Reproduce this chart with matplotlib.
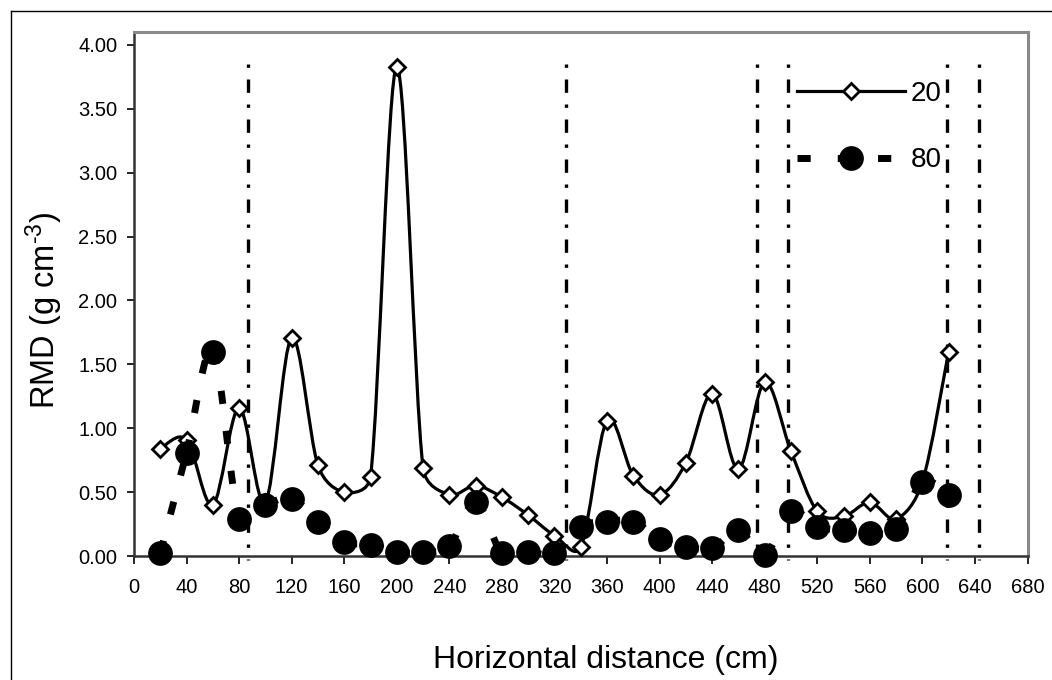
import matplotlib
matplotlib.use("Agg")
import matplotlib.pyplot as plt
from matplotlib.path import Path
from matplotlib.patches import PathPatch
from matplotlib.lines import Line2D
import numpy as np

plt.rcParams['font.family'] = ['Liberation Sans', 'DejaVu Sans']
plt.rcParams['mathtext.fontset'] = 'custom'
plt.rcParams['mathtext.rm'] = 'Liberation Sans'
plt.rcParams['mathtext.default'] = 'regular'

# ---- data ----
distance = [20, 40, 60, 80, 100, 120, 140, 160, 180, 200, 220, 240, 260, 280, 300, 320,
            340, 360, 380, 400, 420, 440, 460, 480, 500, 520, 540, 560, 580, 600, 620]
rmd_20 = [0.84, 0.91, 0.40, 1.16, 0.42, 1.71, 0.71, 0.50, 0.62, 3.83, 0.69, 0.48, 0.55, 0.46, 0.32, 0.16,
          0.07, 1.06, 0.63, 0.48, 0.73, 1.27, 0.68, 1.36, 0.82, 0.35, 0.31, 0.42, 0.29, 0.58, 1.60]
rmd_80 = [0.02, 0.81, 1.60, 0.29, 0.40, 0.45, 0.27, 0.11, 0.09, 0.03, 0.03, 0.08, 0.42, 0.02, 0.03, 0.02,
          0.23, 0.27, 0.27, 0.13, 0.07, 0.06, 0.20, 0.01, 0.35, 0.23, 0.20, 0.18, 0.21, 0.58, 0.48]
boundaries = [86.5, 328.7, 473.8, 497.6, 618.5, 643.0]
boundary_top = 3.85
series_labels = ['20', '80']
x_ticks = list(range(0, 681, 40))
y_ticks = [0.0, 0.5, 1.0, 1.5, 2.0, 2.5, 3.0, 3.5, 4.0]


def smooth_segments(ax, xs, ys):
    """Excel-style smoothed line: list of cubic Bezier segments (data coords),
    control points computed in screen space, limited to half the segment."""
    P = ax.transData.transform(np.column_stack([xs, ys]).astype(float))
    inv = ax.transData.inverted()
    n = len(P)
    segs = []
    for i in range(n - 1):
        p0 = P[i - 1] if i > 0 else P[i]
        p1 = P[i]
        p2 = P[i + 1]
        p3 = P[i + 2] if i + 2 < n else P[i + 1]
        d12 = np.hypot(*(p2 - p1))
        d02 = np.hypot(*(p2 - p0))
        d13 = np.hypot(*(p3 - p1))
        f1 = 1 / 6 if d02 / 6 < d12 / 2 else d12 / (2 * d02)
        f2 = 1 / 6 if d13 / 6 < d12 / 2 else d12 / (2 * d13)
        c1 = p1 + (p2 - p0) * f1
        c2 = p2 - (p3 - p1) * f2
        segs.append(inv.transform(np.array([p1, c1, c2, p2])))
    return segs


def joined_path(segs):
    verts = [segs[0][0]]
    codes = [Path.MOVETO]
    for s in segs:
        verts += list(s[1:])
        codes += [Path.CURVE4] * 3
    return Path(verts, codes)


W, H = 1052, 680
fig = plt.figure(figsize=(W / 100, H / 100), dpi=100)
ax_l, ax_r, ax_t, ax_b = 134, 1027.5, 31.7, 556
ax = fig.add_axes([ax_l / W, 1 - ax_b / H, (ax_r - ax_l) / W, (ax_b - ax_t) / H])
ax.set_xlim(0, 680)
ax.set_ylim(0, 4.104)

# vertical dash-dot boundary lines (behind data)
for b in boundaries:
    ax.plot([b, b], [boundary_top, -0.03], color='black', lw=2.4,
            linestyle=(0, (1, 3.5, 4, 3.5)), dash_capstyle='butt',
            clip_on=False, zorder=1)

# series 20: smoothed solid line + white diamonds
p20 = PathPatch(joined_path(smooth_segments(ax, distance, rmd_20)), fill=False,
                edgecolor='black', lw=2.3, zorder=2, joinstyle='round')
ax.add_patch(p20)
ax.plot(distance, rmd_20, linestyle='none', marker='D', ms=8.6, mfc='white',
        mec='black', mew=2.0, zorder=3, clip_on=False)

# series 80: smoothed thick dashed line (dash pattern restarts per segment) + black circles
for seg in smooth_segments(ax, distance, rmd_80):
    path = Path(seg, [Path.MOVETO, Path.CURVE4, Path.CURVE4, Path.CURVE4])
    ax.add_patch(PathPatch(path, fill=False, edgecolor='black', lw=5,
                           linestyle=(0, (1.9, 3.9)), zorder=4, capstyle='butt'))
ax.plot(distance, rmd_80, linestyle='none', marker='o', ms=16.8, mfc='black',
        mec='black', zorder=5, clip_on=False)

# axes styling
ax.set_xticks(x_ticks)
ax.set_xticklabels([str(v) for v in x_ticks])
ax.set_yticks(y_ticks)
ax.set_yticklabels([f"{v:.2f}" for v in y_ticks])
ax.tick_params(axis='x', direction='out', length=6, width=1.2, pad=10, labelsize=14.5, colors='black')
ax.tick_params(axis='y', direction='out', length=5, width=1.2, pad=7, labelsize=14.5, colors='black')
for s in ['top', 'right']:
    ax.spines[s].set_color('#8a8a8a')
    ax.spines[s].set_linewidth(2.2)
for s in ['left', 'bottom']:
    ax.spines[s].set_color('#333333')
    ax.spines[s].set_linewidth(1.8)
ax.set_facecolor('white')

ax.set_xlabel('Horizontal distance (cm)', fontsize=23)
ax.xaxis.set_label_coords((606 - ax_l) / (ax_r - ax_l), -(645 - ax_b) / (ax_b - ax_t))
ax.set_ylabel('RMD (g cm$^{\u20103}$)', fontsize=23.5)
ax.yaxis.label.set_va('center')
ax.yaxis.set_label_coords((44 - ax_l) / (ax_r - ax_l), (ax_b - 310.5) / (ax_b - ax_t))

# legend
h20 = Line2D([], [], color='black', lw=2.3, marker='D', ms=8.6, mfc='white', mec='black', mew=2.0)
h80 = Line2D([], [], color='black', lw=5, linestyle=(0, (1.9, 3.9)), marker='o', ms=16.8,
             mfc='black', mec='black', dash_capstyle='butt')
leg = fig.legend([h20, h80], series_labels, loc='upper left',
                 bbox_to_anchor=(797 / W, 1 - 81 / H), frameon=False, fontsize=20,
                 handlelength=3.9, handletextpad=0.2, labelspacing=1.45, borderpad=0,
                 borderaxespad=0, numpoints=1)

# outer chart border (left and top)
fig.add_artist(Line2D([11 / W, 11 / W], [0, 1 - 11 / H], transform=fig.transFigure,
                      color='black', lw=1.0))
fig.add_artist(Line2D([11 / W, 1], [1 - 11 / H, 1 - 11 / H], transform=fig.transFigure,
                      color='black', lw=1.0))

fig.savefig('out.png', dpi=100, facecolor='white')
